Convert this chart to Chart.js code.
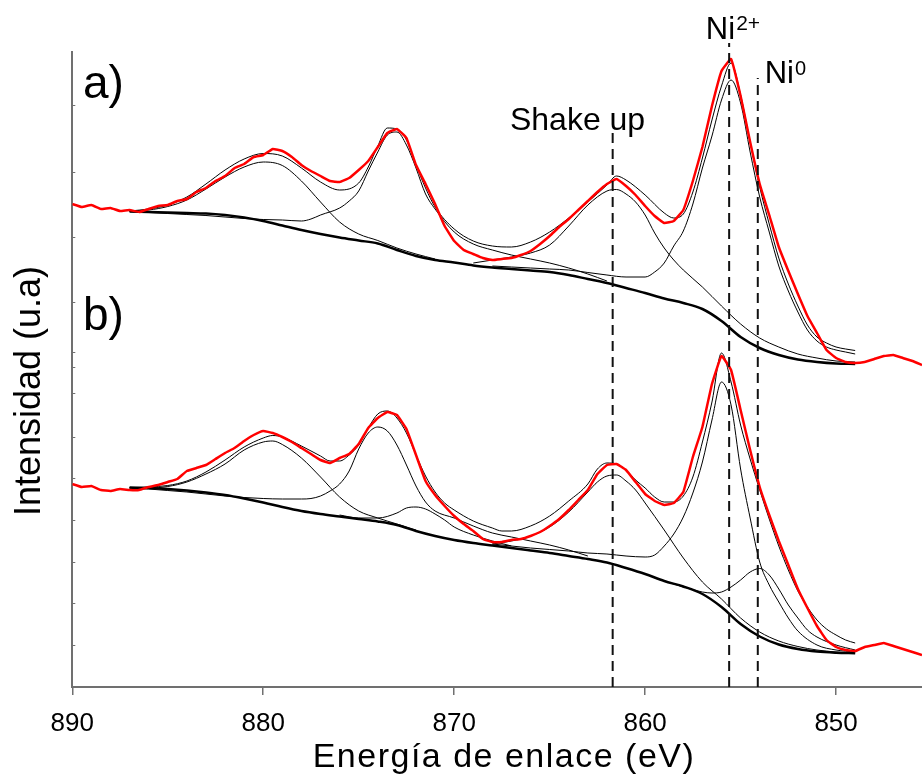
<!DOCTYPE html>
<html>
<head>
<meta charset="utf-8">
<script src="https://cdn.jsdelivr.net/npm/chart.js@4.4.1/dist/chart.umd.min.js"></script>
<style>
html,body{margin:0;padding:0;background:#ffffff;}
#wrap{width:922px;height:774px;}
</style>
</head>
<body>
<div id="wrap"><canvas id="c" width="922" height="774"></canvas></div>
<script>
// ---------- axis ticks ----------
const xTicks = [890, 880, 870, 860, 850];
const yTicks = [42, 84, 125, 167, 209, 250, 294, 320, 335, 385, 450, 515, 582];

// ---------- reference (dashed) lines: energy and top of line ----------
const refLineE   = [861.7, 855.6, 854.1];
const refLineTop = [554, 644, 609];

// ---------- experimental spectra (red), sampled every 0.5 eV ----------
const redE = [
  890,889.5,889,888.5,888,887.5,887,886.5,886,885.5,
  885,884.5,884,883.5,883,882.5,882,881.5,881,880.5,
  880,879.5,879,878.5,878,877.5,877,876.5,876,875.5,
  875,874.5,874,873.5,873,872.5,872,871.5,871,870.5,
  870,869.5,869,868.5,868,867.5,867,866.5,866,865.5,
  865,864.5,864,863.5,863,862.5,862,861.5,861,860.5,
  860,859.5,859,858.5,858,857.5,857,856.5,856,855.5,
  855,854.5,854,853.5,853,852.5,852,851.5,851,850.5,
  850,849.5,849,848.5,848,847.5,847,846.5,846,845.5
];
const redA = [
  483,480,482,478,479,476,477,475,478,481,
  482,486,488,495,499,506,511,519,523,530,
  532,538,536,530,522,516,511,506,505,509,
  517,526,540,554,558,549,522,503,483,461,
  446,437,433,429,427,428,429,432,436,443,
  451,460,468,477,486,495,503,508,501,492,
  481,471,464,466,477,506,540,581,616,628,
  591,545,503,472,440,416,393,371,354,337,
  329,325,324,325,328,331,332,329,326,322
];
const redB = [
  203,200,201,197,196,198,197,197,200,202,
  205,208,216,219,222,228,234,239,246,252,
  256,254,250,245,239,233,227,224,229,233,
  243,259,269,275,272,258,232,206,192,181,
  171,163,156,148,145,145,147,148,151,155,
  161,168,177,187,197,213,222,223,217,205,
  193,186,182,184,195,230,260,303,331,317,
  277,237,200,172,146,122,98,79,61,47,
  40,37,36,40,42,44,41,38,35,32
];

// ---------- fit curves, panel a : [energy, intensity] ----------
const bgA = [[887,475.5],[886,475],[885,474.5],[884,474],[883,473.5],[882,472],[881,469.5],[880,466],[879,461.5],[878,457],[877,453],[876,449.5],[875,446.5],[874,443.5],[873,437],[872,431],[871,427],[870,424.5],[869,421.5],[868,419.5],[867,418],[866,416.5],[865,415],[864,412],[863,408],[862,404],[861,399],[860,394],[859,388.5],[858,384],[857,378],[856,366],[855,350],[854,339],[853,332],[852,327.5],[851,325],[850,323.5],[849,323]];
const envA = [[887,476],[886,478],[885,482],[884,490],[883,503],[882,517],[881,528],[880,533.5],[879,531],[878,519],[877,505],[876,497],[875,504],[874.5,520],[874,541],[873.5,559],[873,558],[872.5,547],[872,522],[871.5,499],[871,480],[870,458],[869,446],[868,441],[867,440],[866,445],[865,455],[864,469],[863,485],[862,502],[861.5,511],[861,507],[860,492],[859,474],[858.5,469],[858,473],[857.5,495],[857,529],[856.5,567],[856,601],[855.5,624],[855,592],[854.5,545],[854,500],[853.5,463],[853,429],[852.5,403],[852,381],[851.5,362],[851,350],[850.5,344],[850,340],[849.5,338],[849,336.5]];
const c1A = [[887,475.5],[886,477],[885,480.5],[884,487],[883,498],[882,510],[881,520],[880,525],[879,521.5],[878,506],[877,485],[876,465],[875,453],[874,446.5],[873,439],[872,433],[871,428]];
const c2A = [[887,475.5],[886,474.5],[885,473.5],[884,472.5],[883,471.5],[882,470],[881,468.5],[880,467.5],[879,467],[878,466],[877.5,468],[877,472],[876,479],[875.5,486],[875,496],[874.5,516],[874,535],[873.5,552],[873,555],[872.5,542],[872,519],[871.5,493],[871,478],[870,455],[869,443],[868,437],[867,432],[866,428],[865,424],[864,419],[863,413],[862,406]];
const c3A = [[869,424],[868,427],[867,430],[866,434],[865,442],[864,461],[863,482],[862,496],[861.5,497.5],[861,493],[860.5,485],[860,472],[859.5,454],[859,439],[858.5,427],[858,417],[857,400],[856,381],[855,363],[854,349],[853,340],[852,333],[851,329],[850,326],[849,325]];
const c4A = [[868,421],[867,420],[866,419],[865,418],[864,417],[863,414.5],[862,412],[861,410],[860,410],[859.5,415],[859,424],[858.5,441],[858,456],[857.5,483],[857,519],[856.5,551],[856,587],[855.5,607],[855,584],[854.5,535],[854,490],[853.5,455],[853,421],[852.5,396],[852,375],[851.5,357],[851,346],[850.5,340],[850,337],[849.5,335],[849,333]];

// ---------- fit curves, panel b ----------
const bgB = [[887,199.5],[886,199],[885,198],[884,196.5],[883,194.5],[882,192],[881,188.5],[880,184.5],[879,180],[878,176],[877,173],[876,170.5],[875,168],[874,165.5],[873,162],[872,156],[871,151],[870,147],[869,144],[868,141.5],[867,139],[866,136.5],[865,134],[864,131],[863,128],[862,124.5],[861,119],[860,113],[859,106],[858,100.5],[857,93],[856,80],[855,63],[854,50.5],[853,42.5],[852,38],[851,35.5],[850,34.3],[849,33.7]];
const envB = [[887,199.5],[886,200],[885,201.5],[884,206],[883,215],[882,227],[881,240],[880,249],[879.5,251.5],[879,250],[878,241],[877,231],[876.5,226],[876,226],[875.5,232],[875,242],[874.5,259],[874,273],[873.5,276],[873,269],[872.5,254],[872,232],[871.5,211],[871,195],[870.5,184],[870,177],[869,166],[868,159],[867.5,156],[867,156],[866,161],[865,171],[864,186],[863,203],[862.5,218],[862,224],[861.5,223],[861,217],[860.5,207],[860,199],[859.5,190],[859,185],[858.5,185],[858,191],[857.5,210],[857,245],[856.5,285],[856,334],[855.5,305],[855,262],[854.5,228],[854,197],[853.5,168],[853,141],[852.5,117],[852,96],[851.5,80],[851,67],[850.5,58],[850,52],[849.5,47],[849,44]];
const c1B = [[887,199],[886,199],[885,200.5],[884,205],[883,213],[882,223],[881,237],[880,245],[879.5,246],[879,242.5],[878,229],[877,210],[876,190],[875,176],[874,169],[873,163],[872,157]];
const c2B = [[887,199],[886,198],[885,196.5],[884,195],[883,193],[882,191],[881,189.5],[880,188.5],[879,188],[878,188],[877.5,188.5],[877,191],[876.5,196],[876,203],[875.5,216],[875,238],[874.5,254],[874,260],[873.5,256],[873,242],[872.5,222],[872,201],[871.5,185],[871,176],[870,169],[869,161],[868,154],[867,150],[866,146],[865,142],[864,137],[863,131]];
const c6B = [[876,172],[875,169],[874,169],[873,174],[872.5,179],[872,180],[871.5,178],[871,173],[870.5,167],[870,160],[869,152],[868,146],[867,141]];
const c3B = [[868,143],[867,146],[866,151],[865,160],[864,175],[863,195],[862.5,205],[862,211],[861.5,212],[861,206],[860.5,197],[860,184],[859,157],[858,129],[857,105],[856,88],[855,69],[854,55],[853,46],[852,40.5],[851,37],[850,35],[849,34]];
const c4B = [[868,143],[867,141],[866,139],[865,137.5],[864,136],[863,134],[862,133],[861,131],[860,130],[859.5,132],[859,141],[858.5,153],[858,170],[857.5,194],[857,225],[856.5,267],[856,305],[855.5,282],[855,218],[854.5,169],[854,125],[853.5,102],[853,85],[852.5,69],[852,56],[851,42],[850,37],[849,35]];
const c5B = [[859,106],[858,100],[857,95],[856.5,94],[856,95],[855.5,100],[855,107],[854.5,115],[854,118.5],[853.5,112],[853,98],[852.5,82],[852,69],[851.5,57],[851,50],[850,42],[849,37]];

// ---------- helpers ----------
const FONT = "'Liberation Sans', Arial, Helvetica, sans-serif";
const toPts = (E, I) => E.map((e, i) => ({x: e, y: I[i]}));
const pairPts = arr => arr.map(p => ({x: p[0], y: p[1]}));

const datasets = [];
refLineE.forEach((e, i) => {
  datasets.push({
    data: [{x: e, y: 0}, {x: e, y: refLineTop[i]}],
    borderColor: '#111', borderWidth: 2, borderDash: [10, 6], clip: false, tension: 0
  });
});
datasets.push({data: toPts(redE, redA), borderColor: '#ff0000', borderWidth: 2.5, tension: 0.1});
datasets.push({data: toPts(redE, redB), borderColor: '#ff0000', borderWidth: 2.5, tension: 0.1});
const fitStyle = {borderColor: '#000', borderWidth: 1, cubicInterpolationMode: 'monotone'};
[envA, c1A, c2A, c3A, c4A, envB, c1B, c2B, c6B, c3B, c4B, c5B].forEach(c => {
  datasets.push(Object.assign({data: pairPts(c)}, fitStyle));
});
[bgA, bgB].forEach(c => {
  datasets.push({data: pairPts(c), borderColor: '#000', borderWidth: 2.5, cubicInterpolationMode: 'monotone'});
});

const textPlugin = {
  id: 'texts',
  afterDatasetsDraw(chart) {
    const {ctx, scales: {x, y}} = chart;
    const px = e => x.getPixelForValue(e);
    const py = v => y.getPixelForValue(v);
    ctx.save();
    ctx.fillStyle = '#000';
    ctx.textAlign = 'left';
    ctx.textBaseline = 'alphabetic';
    ctx.font = '46px ' + FONT;
    ctx.fillText('a)', px(889.44), py(589));
    ctx.fillText('b)', px(889.44), py(357));
    ctx.font = '32px ' + FONT;
    ctx.fillText('Shake up', px(867.08), py(557));
    // Ni2+
    ctx.font = '31px ' + FONT;
    let nx = px(856.82), ny = py(648);
    ctx.fillText('Ni', nx, ny);
    let w = ctx.measureText('Ni').width;
    ctx.font = '21px ' + FONT;
    ctx.fillText('2+', nx + w + 1, ny - 9);
    // Ni0
    ctx.font = '31px ' + FONT;
    nx = px(853.74); ny = py(604);
    ctx.fillText('Ni', nx, ny);
    w = ctx.measureText('Ni').width;
    ctx.font = '20px ' + FONT;
    ctx.fillText('0', nx + w + 1, ny - 8);
    // axis titles
    ctx.font = '34px ' + FONT;
    ctx.textAlign = 'center';
    if ('letterSpacing' in ctx) ctx.letterSpacing = '1.5px';
    ctx.fillText('Energía de enlace (eV)', 504, 767);
    if ('letterSpacing' in ctx) ctx.letterSpacing = '0px';
    ctx.translate(40, 391);
    ctx.rotate(-Math.PI / 2);
    ctx.font = '36px ' + FONT;
    ctx.fillText('Intensidad (u.a)', 0, 0);
    ctx.restore();
  }
};

new Chart(document.getElementById('c'), {
  type: 'line',
  data: {datasets},
  plugins: [textPlugin],
  options: {
    responsive: false,
    animation: false,
    devicePixelRatio: 1,
    layout: {padding: {top: 52, left: 0, right: 0, bottom: 0}},
    plugins: {legend: {display: false}, tooltip: {enabled: false}},
    elements: {point: {radius: 0, hoverRadius: 0}},
    scales: {
      x: {
        type: 'linear', reverse: true, min: 845.5, max: 890,
        afterBuildTicks: s => { s.ticks = xTicks.map(v => ({value: v})); },
        afterFit: s => { s.height = 87; },
        grid: {drawOnChartArea: false, drawTicks: true, tickLength: 8, color: '#707070', lineWidth: 1.5},
        border: {display: true, color: '#707070', width: 2},
        ticks: {font: {family: FONT, size: 26}, color: '#000', padding: 13, maxRotation: 0, autoSkip: false}
      },
      y: {
        type: 'linear', min: 0, max: 635,
        afterBuildTicks: s => { s.ticks = yTicks.map(v => ({value: v})); },
        afterFit: s => { s.width = 72.3; },
        grid: {drawOnChartArea: false, drawTicks: true, tickLength: -3, color: '#707070', lineWidth: 1},
        border: {display: true, color: '#707070', width: 2},
        ticks: {display: false}
      }
    }
  }
});
</script>
</body>
</html>
